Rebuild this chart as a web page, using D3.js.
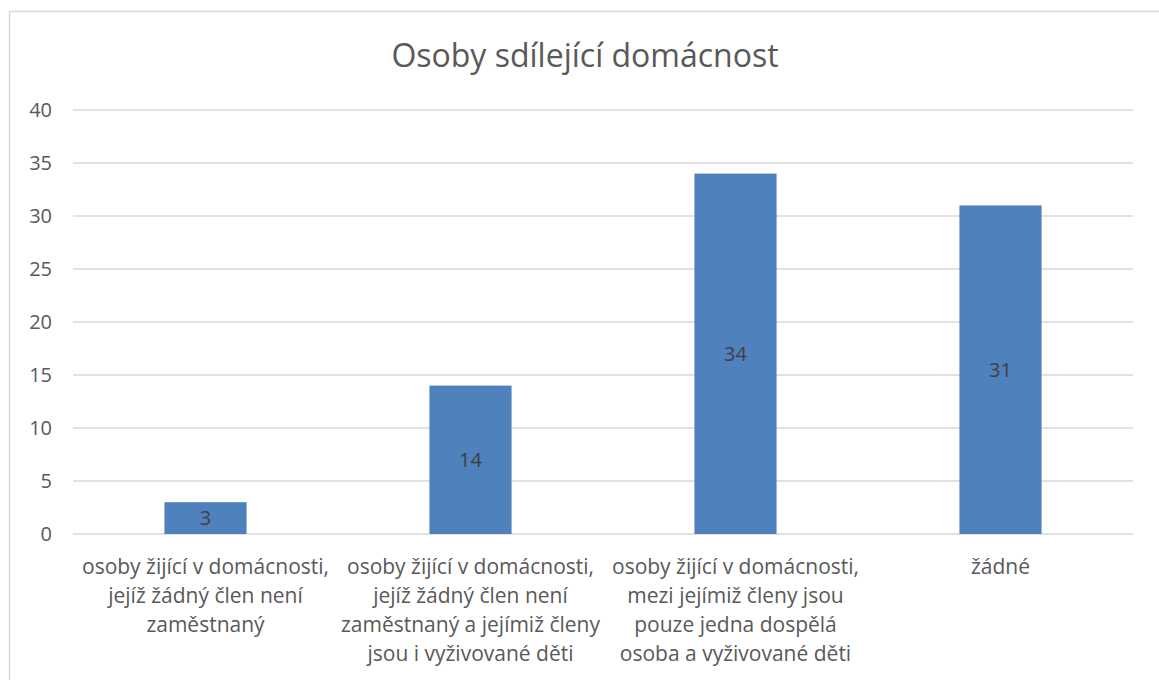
<!DOCTYPE html>
<html>
<head>
<meta charset="utf-8">
<script src="https://cdn.jsdelivr.net/npm/d3@7"></script>
<style>
  body { margin: 0; background: #fff; }
  svg { display: block; font-family: "Open Sans", sans-serif; }
</style>
</head>
<body>
<svg width="1159" height="680"></svg>
<script>
let categories = [
  ["osoby žijící v domácnosti,", "jejíž žádný člen není", "zaměstnaný"],
  ["osoby žijící v domácnosti,", "jejíž žádný člen není", "zaměstnaný a jejímiž členy", "jsou i vyživované děti"],
  ["osoby žijící v domácnosti,", "mezi jejímiž členy jsou", "pouze jedna dospělá", "osoba a vyživované děti"],
  ["žádné"]
];
let values = [3, 14, 34, 31];
let yTicks = [0, 5, 10, 15, 20, 25, 30, 35, 40];
let title = "Osoby sdílející domácnost";

let svg = d3.select("svg");

// chart frame
svg
  .append("rect")
  .attr("x", 9.5)
  .attr("y", 11.5)
  .attr("width", 1160)
  .attr("height", 680)
  .attr("fill", "none")
  .attr("stroke", "#d9d9d9")
  .attr("stroke-width", 1.5);

let x = d3
  .scaleBand()
  .domain(d3.range(values.length))
  .range([73, 1133])
  .paddingInner(0.69)
  .paddingOuter(0.345);

let y = d3.scaleLinear().domain([0, 40]).range([534, 110]);

// gridlines
svg
  .selectAll("line.grid")
  .data(yTicks)
  .enter()
  .append("line")
  .attr("class", "grid")
  .attr("x1", 73)
  .attr("x2", 1133)
  .attr("y1", (d) => y(d))
  .attr("y2", (d) => y(d))
  .attr("stroke", "#d9d9d9")
  .attr("stroke-width", 1.3);

// y axis labels
let yAxis = svg
  .append("g")
  .attr("transform", "translate(60,0)")
  .call(d3.axisLeft(y).tickValues(yTicks).tickSize(0).tickPadding(8));
yAxis.select(".domain").remove();
yAxis
  .selectAll("text")
  .attr("fill", "#595959")
  .attr("font-size", 20)
  .attr("font-family", "'Open Sans', sans-serif");

// bars
svg
  .selectAll("rect.bar")
  .data(values)
  .enter()
  .append("rect")
  .attr("class", "bar")
  .attr("x", (d, i) => x(i))
  .attr("y", (d) => y(d))
  .attr("width", x.bandwidth())
  .attr("height", (d) => y(0) - y(d))
  .attr("fill", "#4f81bd");

// data labels
svg
  .selectAll("text.val")
  .data(values)
  .enter()
  .append("text")
  .attr("class", "val")
  .attr("x", (d, i) => x(i) + x.bandwidth() / 2)
  .attr("y", (d) => (y(d) + y(0)) / 2)
  .attr("dy", "0.35em")
  .attr("text-anchor", "middle")
  .attr("fill", "#404040")
  .attr("font-size", 20)
  .text((d) => d);

// category labels
let cat = svg
  .selectAll("text.cat")
  .data(categories)
  .enter()
  .append("text")
  .attr("class", "cat")
  .attr("text-anchor", "middle")
  .attr("fill", "#595959")
  .attr("font-size", 21);
cat
  .selectAll("tspan")
  .data((d, i) => d.map((t) => ({ t: t, i: i })))
  .enter()
  .append("tspan")
  .attr("x", (d) => x(d.i) + x.bandwidth() / 2)
  .attr("y", (d, j) => 574 + j * 29)
  .text((d) => d.t);

// title
svg
  .append("text")
  .attr("x", 585)
  .attr("y", 67)
  .attr("text-anchor", "middle")
  .attr("fill", "#595959")
  .attr("font-size", 32)
  .text(title);
</script>
</body>
</html>
